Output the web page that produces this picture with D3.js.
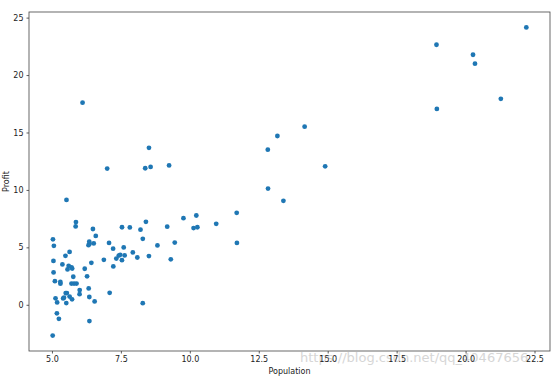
<!DOCTYPE html>
<html>
<head>
<meta charset="utf-8">
<script src="https://cdn.jsdelivr.net/npm/d3@7"></script>
<style>
body{margin:0;background:#fff;}
text{font-family:"DejaVu Sans",sans-serif;}
</style>
</head>
<body>
<div id="chart"></div>
<script>
var width = 554;
var height = 376;

// ex1data1: population (10k) vs profit (10k $)
var population = [6.1101,5.5277,8.5186,7.0032,5.8598,8.3829,7.4764,8.5781,6.4862,5.0546,
	5.7107,14.164,5.734,8.4084,5.6407,5.3794,6.3654,5.1301,6.4296,7.0708,
	6.1891,20.27,5.4901,6.3261,5.5649,18.945,12.828,10.957,13.176,22.203,
	5.2524,6.5894,9.2482,5.8918,8.2111,7.9334,8.0959,5.6063,12.836,6.3534,
	5.4069,6.8825,11.708,5.7737,7.8247,7.0931,5.0702,5.8014,11.7,5.5416,
	7.5402,5.3077,7.4239,7.6031,6.3328,6.3589,6.2742,5.6397,9.3102,9.4536,
	8.8254,5.1793,21.279,14.908,18.959,7.2182,8.2951,10.236,5.4994,20.341,
	10.136,7.3345,6.0062,7.2259,5.0269,6.5479,7.5386,5.0365,10.274,5.1077,
	5.7292,5.1884,6.3557,9.7687,6.5159,8.5172,9.1802,6.002,5.5204,5.0594,
	5.7077,7.6366,5.8707,5.3054,8.2934,13.394,5.4369];
var profit = [17.592,9.1302,13.662,11.854,6.8233,11.886,4.3483,12,6.5987,3.8166,
	3.2522,15.505,3.1551,7.2258,0.71618,3.5129,5.3048,0.56077,3.6518,5.3893,
	3.1386,21.767,4.263,5.1875,3.0825,22.638,13.501,7.0467,14.692,24.147,
	-1.22,5.9966,12.134,1.8495,6.5426,4.5623,4.1164,3.3928,10.117,5.4974,
	0.55657,3.9115,5.3854,2.4406,6.7318,1.0463,5.1337,1.844,8.0043,1.0179,
	6.7504,1.8396,4.2885,4.9981,1.4233,-1.4211,2.4756,4.6042,3.9624,5.4141,
	5.1694,-0.74279,17.929,12.054,17.054,4.8852,5.7442,7.7754,1.0173,20.992,
	6.6799,4.0259,1.2784,3.3411,-2.6807,0.29678,3.8845,5.7014,6.7526,2.0576,
	0.47953,0.20421,0.67861,7.5435,5.3436,4.2415,6.7981,0.92695,0.152,2.8214,
	1.8451,4.2959,7.2029,1.9869,0.14454,9.0551,0.61705];
var xTicks = [5.0,7.5,10.0,12.5,15.0,17.5,20.0,22.5];
var yTicks = [0,5,10,15,20,25];

var margin = {top:12, right:4, bottom:25, left:29};

var svg = d3.select("#chart").append("svg")
	.attr("width", width)
	.attr("height", height);

// matplotlib style 5% padding on the data range
function padded(arr){
	var e = d3.extent(arr);
	var p = (e[1]-e[0])*0.05;
	return [e[0]-p, e[1]+p];
}

var x = d3.scaleLinear().domain(padded(population)).range([margin.left, width-margin.right]);
var y = d3.scaleLinear().domain(padded(profit)).range([height-margin.bottom, margin.top]);

var data = population.map(function(p,i){ return {pop:p, prof:profit[i]}; });

// watermark
svg.append("text")
	.attr("x", 300)
	.attr("y", 362)
	.attr("font-size", 13)
	.attr("fill", "#d6d6d6")
	.attr("font-family", "Arial, Liberation Sans, sans-serif")
	.text("https://blog.csdn.net/qq_40467656");

svg.append("g")
	.selectAll("circle")
	.data(data)
	.enter()
	.append("circle")
	.attr("cx", function(d){ return x(d.pop); })
	.attr("cy", function(d){ return y(d.prof); })
	.attr("r", 2.4)
	.attr("fill", "#1f77b4");

var xAxis = svg.append("g")
	.attr("transform", "translate(0," + (height-margin.bottom) + ")")
	.call(d3.axisBottom(x).tickValues(xTicks).tickFormat(d3.format(".1f")).tickSize(2.5).tickPadding(3));
var yAxis = svg.append("g")
	.attr("transform", "translate(" + margin.left + ",0)")
	.call(d3.axisLeft(y).tickValues(yTicks).tickFormat(d3.format("d")).tickSize(2.5).tickPadding(3));

[xAxis, yAxis].forEach(function(a){
	a.select(".domain").remove();
	a.selectAll("text").attr("font-size", 8).attr("fill", "#222").attr("font-family", "DejaVu Sans, sans-serif");
	a.selectAll("line").attr("stroke", "#333").attr("stroke-width", 0.8);
});

// frame
svg.append("rect")
	.attr("x", margin.left)
	.attr("y", margin.top)
	.attr("width", width-margin.left-margin.right)
	.attr("height", height-margin.top-margin.bottom)
	.attr("fill", "none")
	.attr("stroke", "#444")
	.attr("stroke-width", 0.8);

svg.append("text")
	.attr("x", (margin.left + width - margin.right)/2)
	.attr("y", 374)
	.attr("text-anchor", "middle")
	.attr("font-size", 8)
	.attr("fill", "#222")
	.text("Population");

svg.append("text")
	.attr("transform", "translate(9," + ((margin.top + height - margin.bottom)/2) + ") rotate(-90)")
	.attr("text-anchor", "middle")
	.attr("font-size", 8)
	.attr("fill", "#222")
	.text("Profit");
</script>
</body>
</html>
